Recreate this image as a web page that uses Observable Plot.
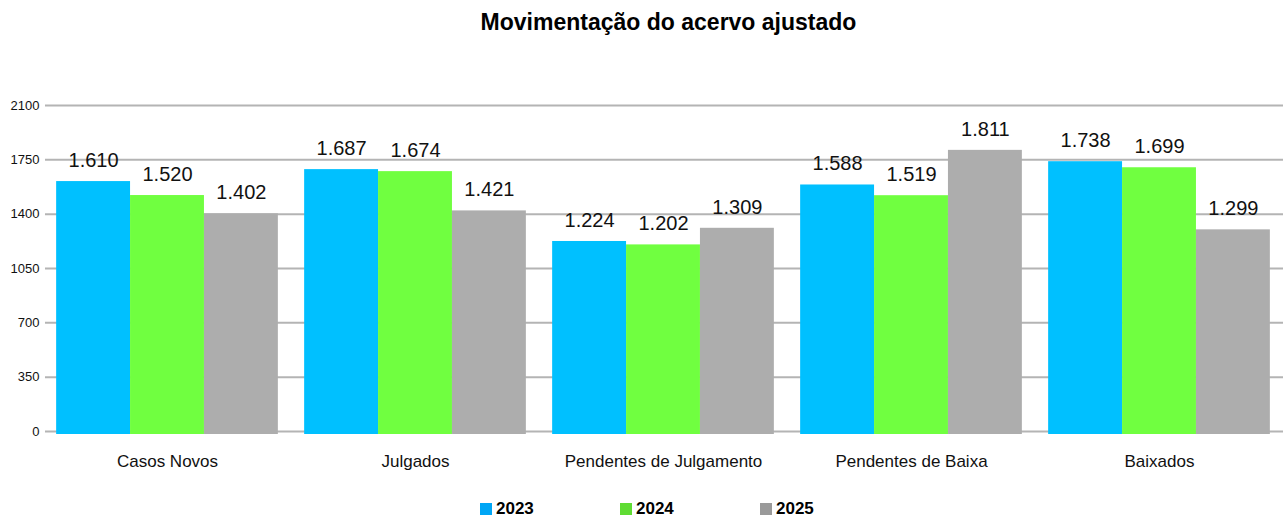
<!DOCTYPE html>
<html>
<head>
<meta charset="utf-8">
<script src="https://cdn.jsdelivr.net/npm/d3@7"></script>
<script src="https://cdn.jsdelivr.net/npm/@observablehq/plot@0.6"></script>
<style>
  html, body { margin: 0; padding: 0; background: #fff; }
  body { width: 1283px; height: 518px; position: relative; overflow: hidden; font-family: "Liberation Sans", Arial, sans-serif; }
  #title { position: absolute; left: 0; top: 0; width: 1283px; height: 44px; line-height: 44px; text-align: center; font-weight: bold; font-size: 23px; color: #000; padding-left: 54px; box-sizing: border-box; }
  #chart { position: absolute; left: 0; top: 44px; }
  #legend { position: absolute; left: 0; top: 471px; width: 1283px; height: 47px; }
  .item { position: absolute; top: 28px; font-weight: bold; font-size: 17px; line-height: 20px; color: #000; }
  .sw { display: inline-block; width: 12px; height: 12px; margin-right: 4px; vertical-align: -1px; }
</style>
</head>
<body>
<div id="title">Movimentação do acervo ajustado</div>
<div id="chart"></div>
<div id="legend"></div>
<script>
const categories = ["Casos Novos", "Julgados", "Pendentes de Julgamento", "Pendentes de Baixa", "Baixados"];
const years = ["2023", "2024", "2025"];
const values2023 = [1610, 1687, 1224, 1588, 1738];
const values2024 = [1520, 1674, 1202, 1519, 1699];
const values2025 = [1402, 1421, 1309, 1811, 1299];
const yTicks = [0, 350, 700, 1050, 1400, 1750, 2100];

const barColors = ["#00c0ff", "#70ff40", "#adadad"];
const legendColors = ["#00a6f5", "#5fdc33", "#9a9a9a"];

const series = [values2023, values2024, values2025];
const groupPad = 0.053;
const barW = (1 - 2 * groupPad) / years.length;
const data = [];
categories.forEach((c, i) => {
  series.forEach((vals, j) => {
    const x1 = i + groupPad + j * barW;
    data.push({category: c, year: years[j], value: vals[i], x1, x2: x1 + barW, xm: x1 + barW / 2});
  });
});

const fmt = d3.formatLocale({decimal: ",", thousands: ".", grouping: [3], currency: ["R$", ""]}).format(",d");

const chart = Plot.plot({
  width: 1283,
  height: 427,
  marginLeft: 43,
  marginRight: 0,
  marginTop: 61,
  marginBottom: 40,
  style: {fontFamily: "Liberation Sans, Arial, sans-serif", background: "#fff"},
  x: {type: "linear", domain: [0, categories.length], label: null},
  y: {domain: [0, 2100], label: null},
  color: {domain: years, range: barColors},
  marks: [
    Plot.ruleY(yTicks, {y: d => d, x1: 0.008, x2: categories.length, stroke: "#b4b4b4", strokeWidth: 2}),
    Plot.rectY(data, {x1: "x1", x2: "x2", y1: 0, y2: "value", fill: "year", insetBottom: -3}),
    Plot.text(data, {x: "xm", y: "value", text: d => fmt(d.value), dy: -21, fontSize: 20, fill: "#111"}),
    Plot.axisY({ticks: yTicks, tickSize: 0, tickPadding: 4, fontSize: 13, tickFormat: d => String(d), fill: "#111"}),
    Plot.axisX({ticks: categories.map((c, i) => i + 0.5), tickFormat: d => categories[Math.floor(d)], tickSize: 0, tickPadding: 23, fontSize: 17, fill: "#111"})
  ]
});
document.getElementById("chart").appendChild(chart);

const legend = document.getElementById("legend");
const legendX = [480, 620, 760];
years.forEach((y, j) => {
  const el = document.createElement("div");
  el.className = "item";
  el.style.left = legendX[j] + "px";
  el.innerHTML = `<span class="sw" style="background:${legendColors[j]}"></span>${y}`;
  legend.appendChild(el);
});
</script>
</body>
</html>
